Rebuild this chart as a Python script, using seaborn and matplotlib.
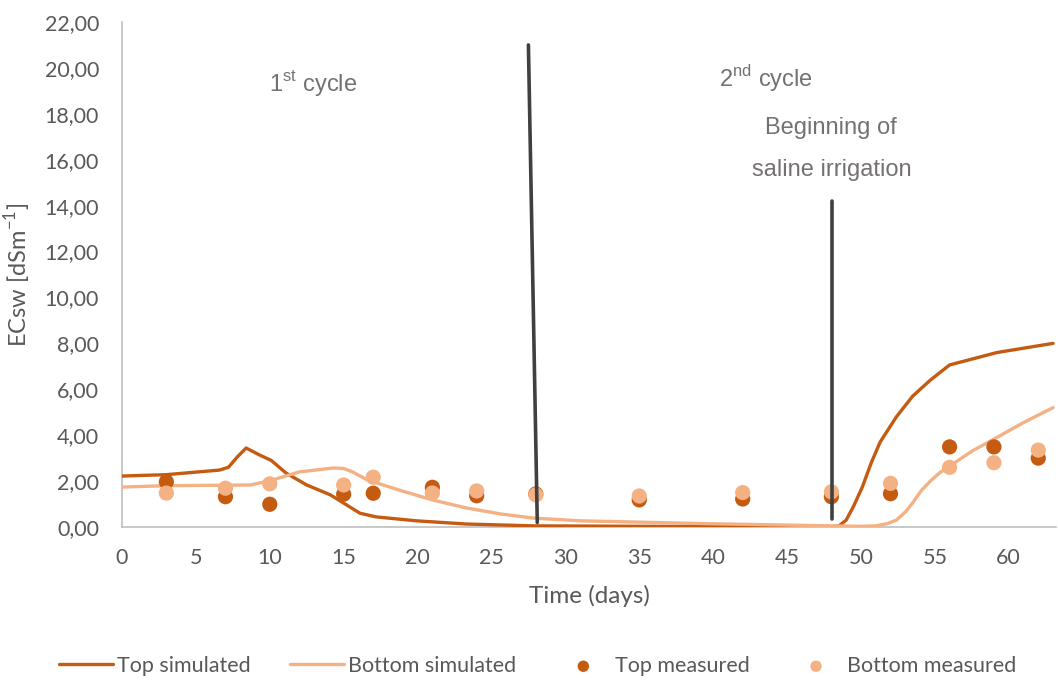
import matplotlib
matplotlib.use("Agg")
import matplotlib.pyplot as plt
import seaborn as sns
import pandas as pd

# Simulated soil-water salinity (ECsw, dS/m) at two depths
top_sim_days = [0, 3, 6.6, 7.2, 7.8, 8.4, 9.3, 10.1, 11.1, 12.5, 14.1, 15.0, 16.1, 17.2,
                19.9, 23.3, 27.8, 35, 42, 48.0, 48.5, 49.0, 49.5, 50.1, 50.7, 51.3, 52.4,
                53.5, 54.7, 56.0, 59.2, 63.0]
top_sim_vals = [2.22, 2.28, 2.48, 2.6, 3.05, 3.44, 3.14, 2.9, 2.35, 1.83, 1.4, 1.04, 0.6, 0.44,
                0.27, 0.13, 0.05, 0.03, 0.02, 0.02, 0.04, 0.3, 0.9, 1.75, 2.8, 3.7, 4.8,
                5.7, 6.4, 7.06, 7.6, 8.0]
bottom_sim_days = [0, 3, 8.7, 10.2, 12.0, 14.3, 15.0, 15.6, 16.6, 18.8, 21.0, 23.3, 25.6, 27.8,
                   31.0, 34.4, 40, 47.9, 50.0, 51.0, 51.8, 52.4, 53.0, 53.5, 54.1, 54.7,
                   55.3, 56.0, 57.5, 59.2, 61.0, 63.0]
bottom_sim_vals = [1.74, 1.8, 1.83, 2.05, 2.4, 2.57, 2.55, 2.4, 2.05, 1.6, 1.18, 0.83, 0.57, 0.39,
                   0.27, 0.22, 0.14, 0.05, 0.03, 0.05, 0.15, 0.3, 0.65, 1.05, 1.6, 2.0,
                   2.35, 2.65, 3.3, 3.9, 4.55, 5.2]

# Measured values
meas_days = [3, 7, 10, 15, 17, 21, 24, 28, 35, 42, 48, 52, 56, 59, 62]
top_meas = [1.97, 1.32, 0.99, 1.43, 1.47, 1.73, 1.36, 1.44, 1.18, 1.22, 1.32, 1.45, 3.49, 3.49, 3.0]
bottom_meas = [1.48, 1.69, 1.88, 1.83, 2.17, 1.48, 1.57, 1.4, 1.35, 1.5, 1.53, 1.9, 2.6, 2.8, 3.35]

# Cycle markers
cycle_line_x = [27.5, 28.1]
cycle_line_y = [21.0, 0.2]
saline_line_x = [48.05, 48.05]
saline_line_y = [14.2, 0.35]

x_ticks = list(range(0, 61, 5))
y_ticks = list(range(0, 23, 2))

TOP_COLOR = "#C55A11"
BOTTOM_COLOR = "#F4B183"
TEXT_COLOR = "#595959"
NOTE_COLOR = "#767171"

sns.set_theme(style="white")
plt.rcParams["font.family"] = ["Lato", "DejaVu Sans"]

fig = plt.figure(figsize=(10.58, 6.81), dpi=100)
ax = fig.add_axes([122 / 1058, 1 - 527 / 681, (1056 - 122) / 1058, (527 - 22) / 681])

top_df = pd.DataFrame({"day": top_sim_days, "ec": top_sim_vals})
bot_df = pd.DataFrame({"day": bottom_sim_days, "ec": bottom_sim_vals})
meas_df = pd.DataFrame({"day": meas_days, "top": top_meas, "bottom": bottom_meas})

sns.lineplot(data=top_df, x="day", y="ec", ax=ax, color=TOP_COLOR, lw=2.4,
             label="Top simulated", zorder=3)
sns.lineplot(data=bot_df, x="day", y="ec", ax=ax, color=BOTTOM_COLOR, lw=2.4,
             label="Bottom simulated", zorder=3)
sns.scatterplot(data=meas_df, x="day", y="top", ax=ax, color=TOP_COLOR, s=120,
                edgecolor="none", label="Top measured", zorder=4)
sns.scatterplot(data=meas_df, x="day", y="bottom", ax=ax, color=BOTTOM_COLOR, s=120,
                edgecolor="none", label="Bottom measured", zorder=5)

ax.plot(cycle_line_x, cycle_line_y, color="#404040", lw=2.6, zorder=6, label="_nolegend_")
ax.plot(saline_line_x, saline_line_y, color="#404040", lw=2.6, zorder=6, label="_nolegend_")

ax.set_xlim(0, 63.2)
ax.set_ylim(0, 22)
ax.set_xticks(x_ticks)
ax.set_yticks(y_ticks)
ax.set_yticklabels([f"{v:.2f}".replace(".", ",") for v in y_ticks])
ax.tick_params(axis="both", length=0, labelsize=15.5, labelcolor=TEXT_COLOR)
ax.tick_params(axis="y", pad=16.5)
ax.tick_params(axis="x", pad=15)

for side in ["top", "right"]:
    ax.spines[side].set_visible(False)
for side in ["left", "bottom"]:
    ax.spines[side].set_color("#BFBFBF")
    ax.spines[side].set_linewidth(1.2)

ax.set_xlabel("Time (days)", fontsize=17.5, color=TEXT_COLOR, labelpad=12)
ax.set_ylabel(r"ECsw [dSm$^{\mathregular{-1}}$]", fontsize=17, color=TEXT_COLOR, labelpad=8)

note_font = dict(family=["Liberation Sans", "DejaVu Sans"], fontsize=17, color=NOTE_COLOR,
                 ha="center", va="baseline")
ax.text(12.9, 19.01, r"1$^{\mathregular{st}}$ cycle", **note_font)
ax.text(43.6, 19.16, r"2$^{\mathregular{nd}}$ cycle", **note_font)
ax.text(48.0, 17.11, "Beginning of", **note_font)
ax.text(48.0, 15.30, "saline irrigation", **note_font)

ax.legend(loc="center", bbox_to_anchor=(0.445, -0.275), ncol=4, frameon=False,
          fontsize=15.5, labelcolor=TEXT_COLOR, handlelength=2.5, handletextpad=0.2,
          columnspacing=1.85, markerscale=0.75)

fig.savefig("out.png", dpi=100)
